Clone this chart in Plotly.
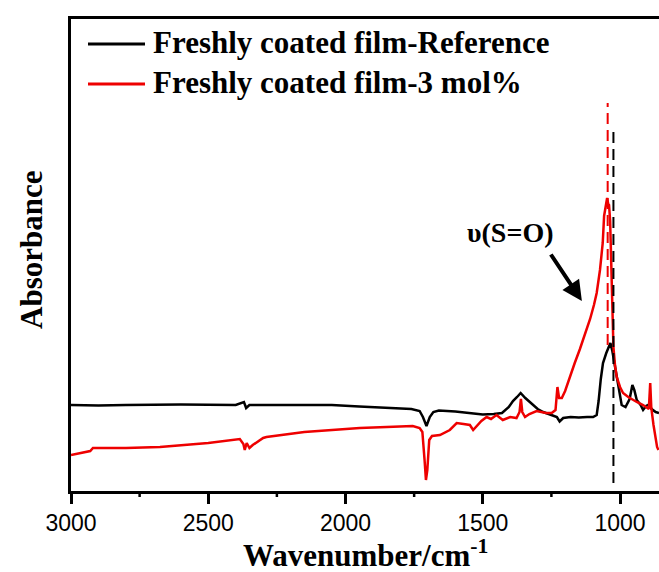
import plotly.graph_objects as go

# ---- data (arbitrary absorbance units) ----
wn_ref = [3000, 2900, 2800, 2600, 2400, 2370, 2362, 2350, 2200, 2050, 1950, 1850,
          1760, 1730, 1718, 1705, 1693, 1680, 1660, 1600, 1550, 1500, 1460, 1430,
          1405, 1390, 1375, 1362, 1345, 1325, 1300, 1280, 1250, 1230, 1220, 1207,
          1180, 1150, 1120, 1098, 1085, 1078, 1070, 1062, 1050, 1040, 1035, 1028, 1018,
          1012, 1000, 994, 980, 965, 955, 948, 939, 925, 916, 905, 898, 885, 870, 858]
abs_ref = [0.86, 0.855, 0.86, 0.865, 0.86, 0.89, 0.83, 0.86, 0.86, 0.86, 0.845, 0.835,
           0.82, 0.80, 0.74, 0.65, 0.74, 0.79, 0.805, 0.795, 0.78, 0.765, 0.77, 0.78,
           0.84, 0.90, 0.94, 0.98, 0.93, 0.88, 0.82, 0.79, 0.76, 0.74, 0.695, 0.73,
           0.74, 0.735, 0.74, 0.74, 0.76, 0.90, 1.12, 1.28, 1.38, 1.46, 1.48, 1.40, 1.25,
           1.14, 0.95, 0.86, 0.84, 0.92, 1.06, 1.01, 0.91, 0.86, 0.81, 0.85, 0.86, 0.82, 0.79, 0.78]

wn_3mol = [3000, 2960, 2930, 2920, 2800, 2676, 2500, 2385, 2372, 2367, 2360, 2350,
           2338, 2300, 2288, 2150, 2058, 1948, 1850, 1755, 1730, 1720, 1712, 1707,
           1702, 1695, 1685, 1656, 1620, 1595, 1570, 1547, 1535, 1522, 1505, 1486,
           1470, 1450, 1427, 1400, 1377, 1366, 1361, 1356, 1346, 1330, 1304, 1270,
           1249, 1235, 1228, 1222, 1212, 1200, 1182, 1165, 1146, 1128, 1109, 1095,
           1085, 1073, 1063, 1058, 1052, 1047, 1043, 1040, 1036, 1034, 1030, 1024,
           1018, 1012, 1000, 989, 970, 952, 939, 916, 903, 895, 890, 886, 878, 870, 865, 860]
abs_3mol = [0.36, 0.38, 0.40, 0.43, 0.43, 0.44, 0.48, 0.52, 0.47, 0.41, 0.48, 0.43,
            0.46, 0.53, 0.54, 0.59, 0.61, 0.63, 0.64, 0.65, 0.63, 0.59, 0.31, 0.11,
            0.21, 0.51, 0.55, 0.56, 0.61, 0.68, 0.67, 0.66, 0.61, 0.65, 0.70, 0.74,
            0.72, 0.76, 0.71, 0.74, 0.73, 0.79, 0.92, 0.79, 0.74, 0.77, 0.80, 0.78,
            0.78, 0.81, 1.04, 0.93, 0.93, 1.00, 1.15, 1.28, 1.42, 1.56, 1.72, 1.86,
            1.98, 2.21, 2.48, 2.75, 2.88, 2.93, 2.87, 2.86, 2.70, 2.48, 1.98, 1.44,
            1.25, 1.14, 1.04, 0.98, 0.94, 0.91, 0.89, 0.86, 0.84, 0.82, 1.08, 0.83, 0.66, 0.51, 0.44, 0.41]

series_names = ["Freshly coated film-Reference", "Freshly coated film-3 mol%"]
series_colors = ["#000000", "#ee0000"]

peak_ref = 1024      # dashed marker, reference film
peak_3mol = 1045     # dashed marker, 3 mol% film
x_ticks = [3000, 2500, 2000, 1500, 1000]
x_minor = [2750, 2250, 1750, 1250]
x_range = [3000, 858]
y_range = [0, 4.72]

SERIF = "Liberation Serif, Times New Roman, serif"
SANS = "Liberation Sans, Arial, sans-serif"

fig = go.Figure()
fig.add_trace(go.Scatter(x=wn_ref, y=abs_ref, mode="lines", name=series_names[0],
                         line=dict(color=series_colors[0], width=2.5), showlegend=False))
fig.add_trace(go.Scatter(x=wn_3mol, y=abs_3mol, mode="lines", name=series_names[1],
                         line=dict(color=series_colors[1], width=2.5), showlegend=False))

# dashed peak markers
fig.add_shape(type="line", xref="x", yref="y", x0=peak_3mol, x1=peak_3mol, y0=1.46, y1=3.88,
              line=dict(color=series_colors[1], width=2, dash="11px,6px"))
fig.add_shape(type="line", xref="x", yref="y", x0=peak_ref, x1=peak_ref, y0=0.08, y1=3.61,
              line=dict(color=series_colors[0], width=2, dash="11px,6px"))

PW, PH, L, T = 588, 472, 71, 19
def px(x): return (x - L) / PW
def py(y): return (T + PH - y) / PH

# minor ticks (outside, shorter)
for v in x_minor:
    fig.add_shape(type="line", xref="x", yref="paper", x0=v, x1=v, y0=0, y1=-6 / PH,
                  line=dict(color="black", width=2.5))

# manual legend
for i, (nm, col) in enumerate(zip(series_names, series_colors)):
    yy = 44 + 40 * i
    fig.add_shape(type="line", xref="paper", yref="paper", x0=px(88), x1=px(145),
                  y0=py(yy), y1=py(yy), line=dict(color=col, width=3))
    fig.add_annotation(xref="paper", yref="paper", x=px(151), y=py(yy - 1.5),
                       xanchor="left", yanchor="middle", showarrow=False,
                       text="<b>%s</b>" % nm, font=dict(family=SERIF, size=31, color="black"))

# peak label and arrow
fig.add_annotation(xref="x", yref="y", x=1139, y=1.90, ax=-32, ay=-48, axref="pixel", ayref="pixel",
                   text="", showarrow=True, arrowhead=2, arrowsize=1, arrowwidth=4,
                   arrowcolor="black", standoff=0)
fig.add_annotation(xref="paper", yref="paper", x=px(510), y=py(232), xanchor="center", yanchor="middle",
                   showarrow=False, text="<b>\u03c5(S=O)</b>",
                   font=dict(family=SERIF, size=28, color="black"))

# axis titles
fig.add_annotation(xref="paper", yref="paper", x=px(366), y=py(553), xanchor="center", yanchor="middle",
                   showarrow=False, text="<b>Wavenumber/cm<sup>-1</sup></b>",
                   font=dict(family=SERIF, size=31, color="black"))
fig.add_annotation(xref="paper", yref="paper", x=px(31), y=py(250), xanchor="center", yanchor="middle",
                   showarrow=False, text="<b>Absorbance</b>", textangle=-90,
                   font=dict(family=SERIF, size=31, color="black"))

fig.update_xaxes(range=x_range, tickvals=x_ticks, ticktext=[str(v) for v in x_ticks],
                 ticks="outside", ticklen=10, tickwidth=2.5, tickcolor="black",
                 showline=True, linewidth=2.5, linecolor="black", mirror=True,
                 showgrid=False, zeroline=False, minor=dict(ticks="", showgrid=False),
                 tickfont=dict(family=SANS, size=23, color="black"))
fig.update_yaxes(range=y_range, showticklabels=False, ticks="", showline=True, linewidth=2.5,
                 linecolor="black", showgrid=False, zeroline=False)

fig.update_layout(template="none", width=659, height=572,
                  margin=dict(l=L, r=0, t=T, b=572 - T - PH),
                  plot_bgcolor="white", paper_bgcolor="white", showlegend=False)

fig.write_html("out.html")
